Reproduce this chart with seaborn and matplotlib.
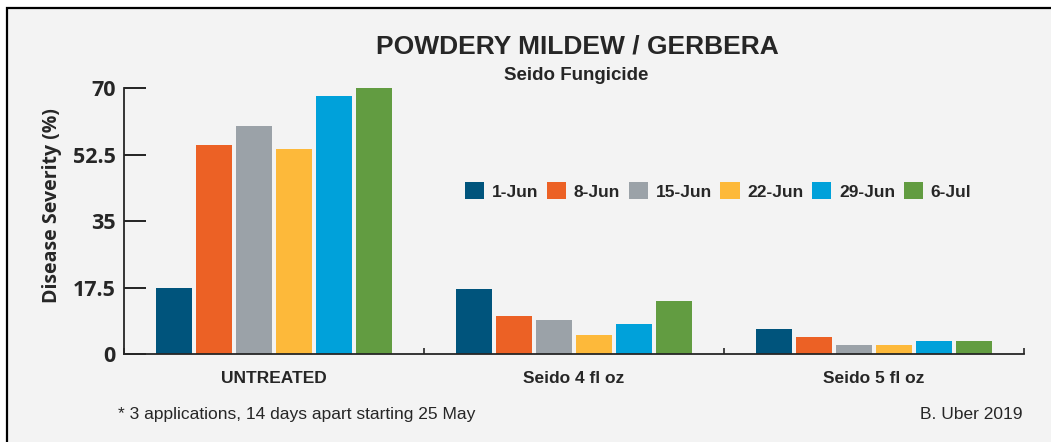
import numpy as np
import pandas as pd
import seaborn as sns
import matplotlib.pyplot as plt
from matplotlib.patches import Rectangle

# Values (disease severity, %)
groups = ["UNTREATED", "Seido 4 fl oz", "Seido 5 fl oz"]
dates = ["1-Jun", "8-Jun", "15-Jun", "22-Jun", "29-Jun", "6-Jul"]
jun1 = [17.5, 17, 6.5]
jun8 = [55, 10, 4.5]
jun15 = [60, 9, 2.5]
jun22 = [54, 5, 2.5]
jun29 = [68, 8, 3.5]
jul6 = [70, 14, 3.5]
yticks = [0, 17.5, 35, 52.5, 70]
colors = ["#00547c", "#ec6125", "#9ba2a8", "#fdb93a", "#00a1da", "#629c41"]

series = [jun1, jun8, jun15, jun22, jun29, jul6]
rows = []
for d, vals in zip(dates, series):
    for g, v in zip(groups, vals):
        rows.append({"group": g, "date": d, "value": v})
df = pd.DataFrame(rows)

sns.set_style("ticks")
plt.rcParams["font.family"] = ["Liberation Sans", "DejaVu Sans"]

W, H = 1051, 442
fig = plt.figure(figsize=(W / 100, H / 100), dpi=100)
fig.patch.set_facecolor("white")

# grey panel with black frame (cropped at right/bottom)
fig.patches.append(Rectangle((7 / W, -0.05), 1.2, 1 - 8 / H + 0.05,
                             transform=fig.transFigure, facecolor="#f3f3f3",
                             edgecolor="black", lw=1.6, zorder=-10))

ax = fig.add_axes([124 / W, 88 / H, 900 / W, 266 / H])
ax.set_facecolor("none")

sns.barplot(data=df, x="group", y="value", hue="date", hue_order=dates,
            palette=colors, saturation=1, width=0.8, gap=0.1, linewidth=0,
            ax=ax)

ax.set_xlim(-0.5, 2.5)
ax.set_ylim(0, 70)
ax.set_yticks(yticks)
ax.set_yticklabels(["0", "17.5", "35", "52.5", "70"],
                   fontdict={"family": "Open Sans", "weight": "bold", "size": 15.5})
ax.tick_params(axis="y", direction="in", length=16, width=1.2, pad=6, color="black")
ax.tick_params(axis="x", which="major", length=0, pad=12)
for t in ax.get_xticklabels():
    t.set_fontweight("bold")
    t.set_fontsize(12.5)
ax.set_xticks([-0.5, 0.5, 1.5, 2.5], minor=True)
ax.tick_params(axis="x", which="minor", direction="in", length=4.5, width=1.2)
sns.despine(ax=ax)
for s in ["left", "bottom"]:
    ax.spines[s].set_linewidth(1.3)
ax.set_xlabel("")
ax.set_ylabel("")

fig.text(52 / W, 1 - 206 / H, "Disease Severity (%)", rotation=90,
         ha="center", va="center", fontsize=14, fontweight="bold", family="Open Sans")

# legend in a single row
leg = ax.get_legend()
handles = leg.legend_handles
labels = [t.get_text() for t in leg.get_texts()]
leg.remove()
ax.legend(handles, labels, ncol=6, frameon=False, loc="center",
          bbox_to_anchor=(718 / W, 1 - 191 / H), bbox_transform=fig.transFigure,
          prop={"weight": "bold", "size": 12.5}, handlelength=1.1, handleheight=1.15,
          handletextpad=0.45, columnspacing=0.5)

fig.text(577 / W, 1 - 54 / H, "POWDERY MILDEW / GERBERA", ha="center",
         va="baseline", fontsize=19, fontweight="bold")
fig.text(576 / W, 1 - 80 / H, "Seido Fungicide", ha="center", va="baseline",
         fontsize=13.5, fontweight="bold")
fig.text(118 / W, 1 - 419 / H, "* 3 applications, 14 days apart starting 25 May",
         ha="left", va="baseline", fontsize=12.5)
fig.text(1022 / W, 1 - 419 / H, "B. Uber 2019", ha="right", va="baseline",
         fontsize=12.5)

fig.savefig("out.png", dpi=100)
